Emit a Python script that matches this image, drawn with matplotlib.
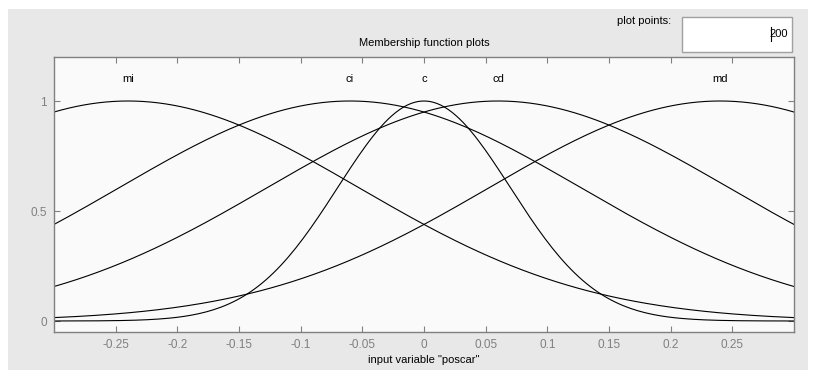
import matplotlib
matplotlib.use("Agg")
import matplotlib.pyplot as plt
import numpy as np
from matplotlib.lines import Line2D
from matplotlib.patches import Rectangle

# gaussian membership functions of input "poscar" (parameters)
mf_names = ["mi", "ci", "c", "cd", "md"]
mf_centers = [-0.24, -0.06, 0.0, 0.06, 0.24]
mf_sigmas = [0.187, 0.187, 0.07, 0.187, 0.187]
x_range = [-0.3, 0.3]
plot_points = 200

x_ticks = [-0.25, -0.2, -0.15, -0.1, -0.05, 0, 0.05, 0.1, 0.15, 0.2, 0.25]
x_ticklabels = ["-0.25", "-0.2", "-0.15", "-0.1", "-0.05", "0", "0.05", "0.1", "0.15", "0.2", "0.25"]
y_ticks = [0, 0.5, 1]
y_ticklabels = ["0", "0.5", "1"]

W, H = 814, 370
plt.rcParams["font.family"] = ["Liberation Sans", "DejaVu Sans"]

fig = plt.figure(figsize=(W / 100, H / 100), dpi=100, facecolor="white")

# gray panel of the editor window
fig.patches.append(Rectangle((8 / W, 0), 800 / W, 1 - 9 / H, transform=fig.transFigure,
                             facecolor="#e8e8e8", edgecolor="none", zorder=-2))

ax = fig.add_axes([54 / W, 1 - 332 / H, 740 / W, 275 / H])
ax.set_zorder(3)
ax.set_facecolor("#fafafa")

x = np.linspace(x_range[0], x_range[1], plot_points)
for name, c, s in zip(mf_names, mf_centers, mf_sigmas):
    y = np.exp(-((x - c) ** 2) / (2 * s ** 2))
    ax.plot(x, y, color="black", lw=0.8)
    ax.text(c, 1.1, name, ha="center", va="center", fontsize=8, color="black")

ax.set_xlim(x_range)
ax.set_ylim(-0.05, 1.2)
ax.set_xticks(x_ticks)
ax.set_xticklabels(x_ticklabels)
ax.set_yticks(y_ticks)
ax.set_yticklabels(y_ticklabels)
ax.tick_params(axis="both", direction="in", length=4.5, width=0.8, color="#808080",
               labelcolor="#808080", labelsize=8.5, top=True, right=True)
ax.tick_params(axis="x", pad=5)
ax.tick_params(axis="y", pad=5)
for sp in ax.spines.values():
    sp.set_color("#808080")
    sp.set_linewidth(1.0)
ax.set_xlabel('input variable "poscar"', fontsize=8, color="black", labelpad=3)

fig.text(424 / W, 1 - 43 / H, "Membership function plots", ha="center", va="center",
         fontsize=8, color="black")

# plot points field
fig.text(671 / W, 1 - 21 / H, "plot points:", ha="right", va="center", fontsize=8, color="black")
fig.patches.append(Rectangle((682 / W, 1 - 52 / H), 110 / W, 35 / H, transform=fig.transFigure,
                             facecolor="white", edgecolor="#a0a0a0", lw=1.0, zorder=1))
fig.text(788 / W, 1 - 34 / H, "200", ha="right", va="center", fontsize=8, color="black", zorder=2)
fig.lines.append(Line2D([771 / W, 771 / W], [1 - 41 / H, 1 - 27 / H], transform=fig.transFigure,
                        color="black", lw=0.8, zorder=2))

fig.savefig("out.png", dpi=100, facecolor="white")
